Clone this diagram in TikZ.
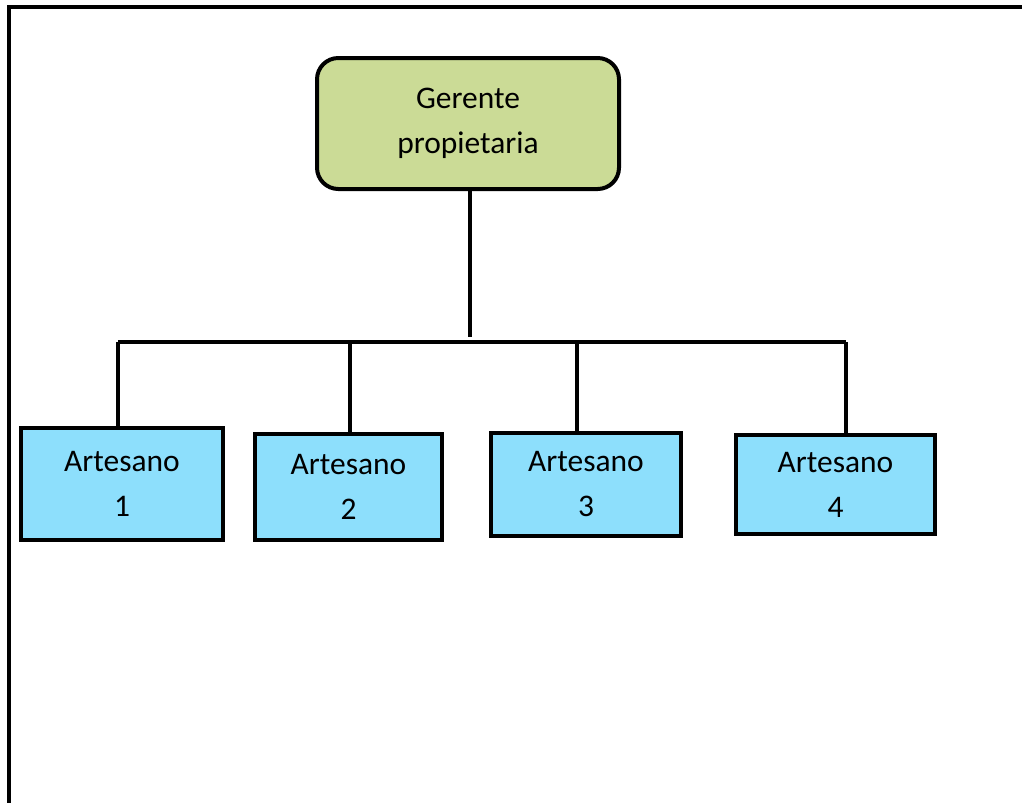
\documentclass[tikz,border=0pt]{standalone}
\usepackage{fontspec}
\setmainfont{Carlito}
\definecolor{mgrgreen}{HTML}{CBDB96}
\definecolor{artblue}{HTML}{8DDFFC}
\tikzset{
  lbl/.style={font=\fontsize{23.6}{33.75}\selectfont, align=center, inner sep=0pt, text=black},
  mgrbox/.style={lbl, draw=black, line width=3pt, fill=mgrgreen, rounded corners=16pt},
  artbox/.style={lbl, draw=black, line width=3pt, fill=artblue},
  link/.style={draw=black, line width=2.4pt},
  frame/.style={draw=black, line width=3pt}
}
\begin{document}
\begin{tikzpicture}[x=0.75pt, y=-0.75pt]
  \useasboundingbox (0,0) rectangle (1022,803);
  % page frame (top and left edges)
  \draw[frame] (1022,7) -- (9,7) -- (9,803);

  % owner
  \node[mgrbox, minimum width=226.5pt, minimum height=98.25pt] (mgr) at (468,123.5) {Gerente\\propietaria};

  % craftsmen
  \node[artbox, minimum width=151.5pt, minimum height=84pt]    (a1) at (122,484)   {Artesano\\1};
  \node[artbox, minimum width=140.25pt, minimum height=79.5pt] (a2) at (348.5,487) {Artesano\\2};
  \node[artbox, minimum width=142.5pt, minimum height=77.25pt] (a3) at (586,484.5) {Artesano\\3};
  \node[artbox, minimum width=149.25pt, minimum height=74.25pt] (a4) at (835.5,484.5) {Artesano\\4};

  % junctions on the horizontal bus
  \coordinate (j1) at (118,342);
  \coordinate (j2) at (350,342);
  \coordinate (j3) at (577,342);
  \coordinate (j4) at (846,342);
  \coordinate (jm) at (470,337);

  % connectors
  \draw[link] (mgr.south -| jm) -- (jm);
  \draw[link] (j1) -- (j4);
  \draw[link] (j1) -- (j1 |- a1.north);
  \draw[link] (j2) -- (j2 |- a2.north);
  \draw[link] (j3) -- (j3 |- a3.north);
  \draw[link] (j4) -- (j4 |- a4.north);
\end{tikzpicture}
\end{document}
